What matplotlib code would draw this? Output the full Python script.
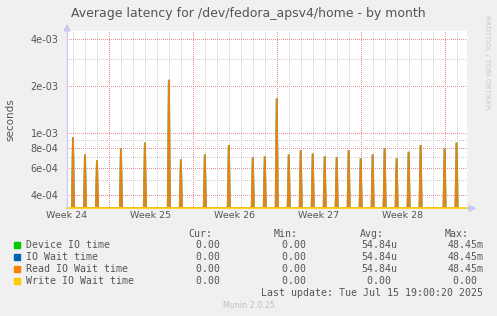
import matplotlib
matplotlib.use("Agg")
import matplotlib.pyplot as plt
from matplotlib.lines import Line2D
from matplotlib.patches import Polygon, Rectangle

# ---------------- data ----------------
# days since Monday 2025-06-09 (start of ISO week 24)
spike_days = [4, 5, 6, 8, 10, 12, 13, 15, 17, 19, 20, 21, 22, 23, 24, 25, 26,
              27, 28, 29, 30, 31, 32, 33, 35, 36]
spike_vals = [9.4e-4, 7.3e-4, 6.7e-4, 8.0e-4, 8.7e-4, 2.2e-3, 6.8e-4, 7.3e-4,
              8.4e-4, 7.0e-4, 7.1e-4, 1.67e-3, 7.3e-4, 7.8e-4, 7.4e-4, 7.1e-4,
              7.0e-4, 7.8e-4, 6.9e-4, 7.3e-4, 8.0e-4, 6.9e-4, 7.6e-4, 8.4e-4,
              8.0e-4, 8.7e-4]
write_vals = [0.0] * len(spike_days)

series_names = ["Device IO time", "IO Wait time", "Read IO Wait time", "Write IO Wait time"]
series_colors = ["#00cc00", "#0066b3", "#ff8000", "#ffcc00"]
cur_vals = ["0.00 ", "0.00 ", "0.00 ", "0.00 "]
min_vals = ["0.00 ", "0.00 ", "0.00 ", "0.00 "]
avg_vals = ["54.84u", "54.84u", "54.84u", "0.00 "]
max_vals = ["48.45m", "48.45m", "48.45m", "0.00 "]

week_labels = ["Week 24", "Week 25", "Week 26", "Week 27", "Week 28"]
week_centers = [3.5, 10.5, 17.5, 24.5, 31.5]
major_y = [4e-4, 6e-4, 8e-4, 1e-3, 2e-3, 4e-3]
major_y_labels = ["4e-04", "6e-04", "8e-04", "1e-03", "2e-03", "4e-03"]
minor_y = [5e-4, 7e-4, 9e-4, 3e-3]

title = "Average latency for /dev/fedora_apsv4/home - by month"
last_update = "Last update: Tue Jul 15 19:00:20 2025"

# ---------------- figure ----------------
W, H = 497, 316
fig = plt.figure(figsize=(W / 100, H / 100), dpi=100)
fig.patch.set_facecolor("#f0f0f0")

L, R, T, B = 67, 467, 31, 208.3
ax = fig.add_axes([L / W, 1 - B / H, (R - L) / W, (B - T) / H])
ax.set_facecolor("white")
ax.set_yscale("log")
ymin, ymax = 3.30e-4, 4.52e-3
xmin, xmax = 3.5, 36.87
ax.set_ylim(ymin, ymax)
ax.set_xlim(xmin, xmax)
for s in ax.spines.values():
    s.set_visible(False)

grid_red = "#ec8c8c"
grid_gray = "#d0d0d0"
dot = (0, (1, 2))
# vertical grid
for d in range(4, 37):
    c = grid_red if d % 7 == 0 else grid_gray
    ax.axvline(d, color=c, lw=0.72, ls=dot, zorder=1, antialiased=False)
# horizontal grid
for v in minor_y:
    ax.axhline(v, color=grid_gray, lw=0.72, ls=dot, zorder=1, antialiased=False)
for v in major_y:
    ax.axhline(v, color=grid_red, lw=0.72, ls=dot, zorder=1, antialiased=False)

ax.set_yticks(major_y)
ax.set_yticklabels(major_y_labels)
ax.set_yticks([], minor=True)
ax.tick_params(axis="y", length=0, pad=6, labelsize=7, labelcolor="#555555")
ax.set_xticks(week_centers)
ax.set_xticklabels(week_labels)
ax.tick_params(axis="x", length=0, pad=2, labelsize=6.8, labelcolor="#555555")
ax.set_ylabel("seconds", fontsize=7.5, color="#555555")
ax.yaxis.set_label_coords((15.5 - L) / (R - L), 0.5)

# spikes: each series rises from the floor to its value and back
hw = 0.09
def spike_xy(vals):
    xs, ys = [], []
    for d, v in zip(spike_days, vals):
        v = v if v > 0 else ymin
        xs += [d - hw, d, d + hw]
        ys += [ymin, v, ymin]
    return xs, ys

widths = [1.5, 1.3, 1.3]
alphas = [0.45, 0.5, 0.85]
for i, vals in enumerate([spike_vals, spike_vals, spike_vals]):
    xs, ys = spike_xy(vals)
    ax.plot(xs, ys, color=series_colors[i], lw=widths[i], alpha=alphas[i],
            zorder=3 + i, solid_joinstyle="miter")
# write series (all zeros) sits on the floor
ax.plot([xmin, xmax], [ymin, ymin], color=series_colors[3], lw=1.2,
        zorder=7, clip_on=False)

# axis arrows (lavender)
ax_col = "#c8c8f0"
fig.add_artist(Line2D([L / W, L / W], [1 - B / H, 1 - 27 / H], color=ax_col, lw=0.9))
fig.add_artist(Polygon([[(L - 3) / W, 1 - 31 / H], [(L + 3) / W, 1 - 31 / H],
                        [L / W, 1 - 25 / H]], closed=True, color=ax_col))
fig.add_artist(Line2D([R / W, 470 / W], [1 - B / H, 1 - B / H], color=ax_col, lw=0.9))
fig.add_artist(Polygon([[469 / W, 1 - (B - 3) / H], [469 / W, 1 - (B + 3) / H],
                        [475 / W, 1 - B / H]], closed=True, color=ax_col))

# title
fig.text(248.5 / W, 1 - 13 / H, title, ha="center", va="center",
         fontsize=9.0, color="#555555")
# side text
fig.text(487 / W, 1 - 15 / H, "RRDTOOL / TOBI OETIKER", rotation=270,
         ha="center", va="top", fontsize=5.3, color="#c8c8c8")

# legend
mono = "DejaVu Sans Mono"
fs = 7.1
def fy(y):
    return 1 - y / H
hdr_y = 234
for txt, xr in zip(["Cur:", "Min:", "Avg:", "Max:"], [212, 298, 383.5, 469]):
    fig.text(xr / W, fy(hdr_y), txt, ha="right", va="center", family=mono,
             fontsize=fs, color="#555555")
row_y = [245.3, 257.3, 269.3, 281.3]
for i in range(4):
    y = row_y[i]
    fig.add_artist(Rectangle((14 / W, fy(y + 3)), 6 / W, 6 / H,
                             color=series_colors[i], transform=fig.transFigure))
    fig.text(26.5 / W, fy(y), series_names[i], ha="left", va="center",
             family=mono, fontsize=fs, color="#555555")
    for vals, xr in zip([cur_vals, min_vals, avg_vals, max_vals], [226, 312, 397.3, 483.3]):
        fig.text(xr / W, fy(y), vals[i], ha="right", va="center", family=mono,
                 fontsize=fs, color="#555555")
fig.text(483.3 / W, fy(293), last_update, ha="right", va="center",
         family=mono, fontsize=fs, color="#555555")
fig.text(249 / W, fy(305.5), "Munin 2.0.25", ha="center", va="center",
         fontsize=5.8, color="#c0c0c0")

fig.savefig("out.png", dpi=100, facecolor=fig.get_facecolor())
